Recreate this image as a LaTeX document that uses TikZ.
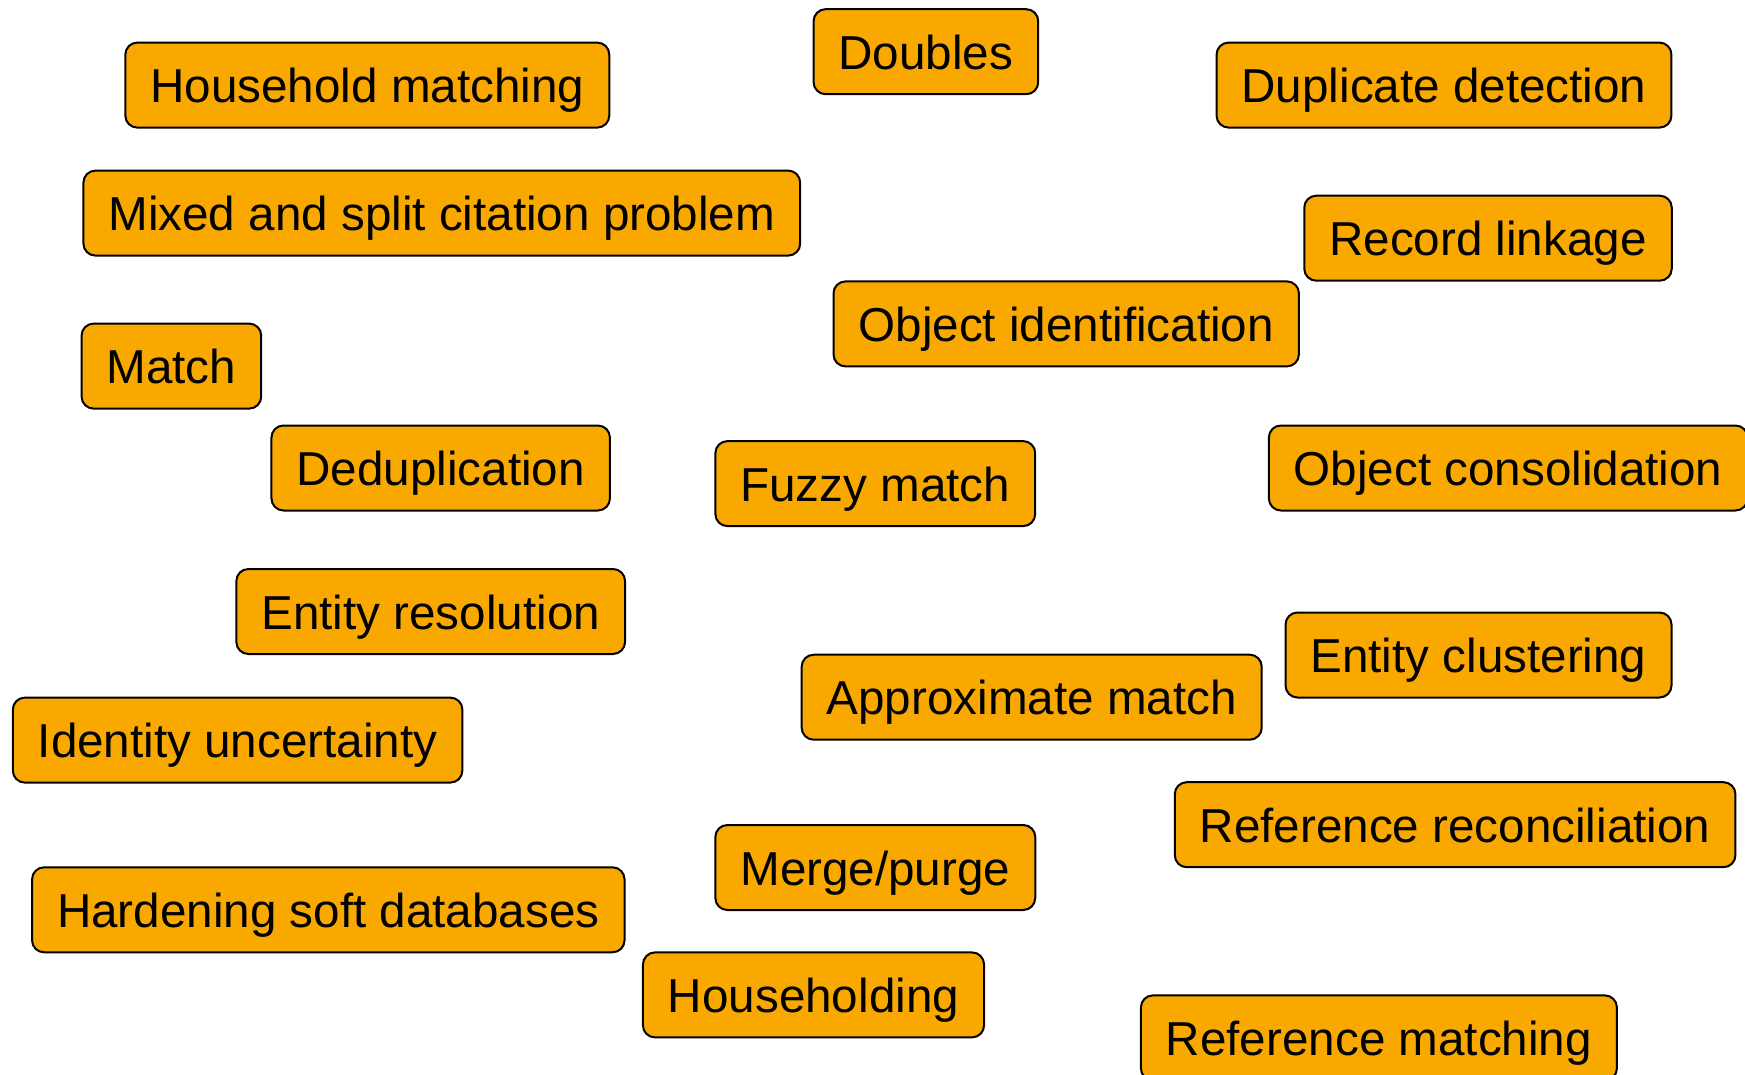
\documentclass[tikz,border=0pt]{standalone}
\usepackage{fontspec}
\setmainfont{Liberation Sans}
\definecolor{boxfill}{RGB}{249,168,0}
\tikzset{
  term/.style={draw=black, line width=2pt, fill=boxfill, rounded corners=12pt,
    inner xsep=25pt, inner ysep=0pt, minimum height=85pt,
    text height=45pt, text depth=10pt,
    font=\fontsize{47.6}{57}\selectfont}
}
\begin{document}
\begin{tikzpicture}[x=1pt,y=-1pt]
\useasboundingbox (0,0) rectangle (1745,1075);
\clip (0,0) rectangle (1745,1075);
\node[term] (hm)  at (367.3,85.1)  {Household matching};
\node[term] (dbl) at (925.9,51.7)  {Doubles};
\node[term] (dd)  at (1444,85.1)   {Duplicate detection};
\node[term] (ms)  at (441.8,213.1) {Mixed and split citation problem};
\node[term] (rl)  at (1488,238.2)  {Record linkage};
\node[term] (oi)  at (1066.2,323.9){Object identification};
\node[term] (mt)  at (171.4,366.1) {Match};
\node[term] (dp)  at (440.7,468.0) {Deduplication};
\node[term] (fm)  at (875.3,483.6) {Fuzzy match};
\node[term] (oc)  at (1508.2,468.0){Object consolidation};
\node[term] (er)  at (430.7,611.5) {Entity resolution};
\node[term] (ec)  at (1478.5,655.0){Entity clustering};
\node[term] (am)  at (1031.7,697.2){Approximate match};
\node[term] (iu)  at (237.6,740.1) {Identity uncertainty};
\node[term] (rr)  at (1455.1,824.7){Reference reconciliation};
\node[term] (mp)  at (875.3,867.5) {Merge/purge};
\node[term] (hs)  at (328.3,909.8) {Hardening soft databases};
\node[term] (hh)  at (813.5,994.9) {Householding};
\node[term] (rm)  at (1378.9,1037.9){Reference matching};
\end{tikzpicture}
\end{document}
